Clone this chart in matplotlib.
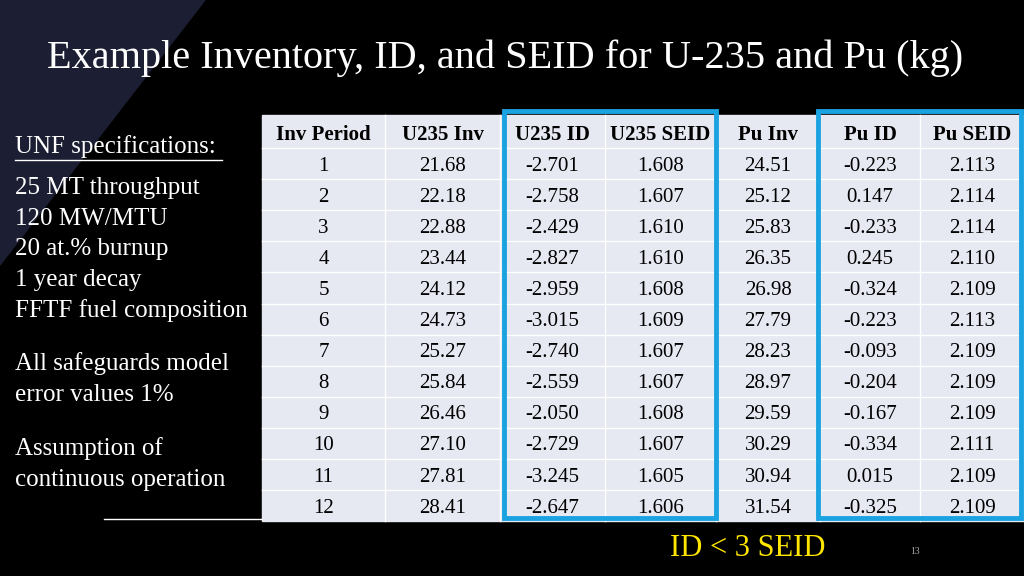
import matplotlib
matplotlib.use("Agg")
import matplotlib.pyplot as plt
from matplotlib.patches import Polygon, Rectangle

headers = ["Inv Period", "U235 Inv", "U235 ID", "U235 SEID", "Pu Inv", "Pu ID", "Pu SEID"]
periods = ["1", "2", "3", "4", "5", "6", "7", "8", "9", "10", "11", "12"]
u235_inv = ["21.68", "22.18", "22.88", "23.44", "24.12", "24.73", "25.27", "25.84", "26.46", "27.10", "27.81", "28.41"]
u235_id = ["-2.701", "-2.758", "-2.429", "-2.827", "-2.959", "-3.015", "-2.740", "-2.559", "-2.050", "-2.729", "-3.245", "-2.647"]
u235_seid = ["1.608", "1.607", "1.610", "1.610", "1.608", "1.609", "1.607", "1.607", "1.608", "1.607", "1.605", "1.606"]
pu_inv = ["24.51", "25.12", "25.83", "26.35", "26.98", "27.79", "28.23", "28.97", "29.59", "30.29", "30.94", "31.54"]
pu_id = ["-0.223", "0.147", "-0.233", "0.245", "-0.324", "-0.223", "-0.093", "-0.204", "-0.167", "-0.334", "0.015", "-0.325"]
pu_seid = ["2.113", "2.114", "2.114", "2.110", "2.109", "2.113", "2.109", "2.109", "2.109", "2.111", "2.109", "2.109"]
columns = [periods, u235_inv, u235_id, u235_seid, pu_inv, pu_id, pu_seid]

plt.rcParams['font.family'] = ['Liberation Serif', 'DejaVu Serif']
fig = plt.figure(figsize=(10.24, 5.76), dpi=100, facecolor='black')
ax = fig.add_axes([0, 0, 1, 1])
ax.set_xlim(0, 1024); ax.set_ylim(576, 0); ax.axis('off')
ax.add_patch(Rectangle((0, 0), 1024, 576, color='black', zorder=0))
ax.add_patch(Polygon([(0, 0), (205, 0), (0, 265)], color='#1c1f33', zorder=1))

ax.text(47, 58, "Example Inventory, ID, and SEID for U-235 and Pu (kg)", color='white',
        fontsize=29, va='center', ha='left', zorder=3)

bounds = [262, 385, 500, 605, 716, 820, 920, 1024]
top, head_h, row_h = 115, 33, 31.1
ax.add_patch(Rectangle((262, top), 762, head_h + 12 * row_h, color='#e6e8f2', zorder=2))
for b in bounds[1:-1]:
    ax.plot([b, b], [top, top + head_h + 12 * row_h], color='white', lw=1, zorder=2.5)
for i in range(12):
    y = top + head_h + i * row_h
    ax.plot([262, 1024], [y, y], color='white', lw=1, zorder=2.5)
for j, h in enumerate(headers):
    cx = (bounds[j] + bounds[j + 1]) / 2
    ax.text(cx, top + head_h / 2 + 3, h, fontsize=15, fontweight='bold', ha='center', va='center', color='black', zorder=3)
    for i, v in enumerate(columns[j]):
        ax.text(cx, top + head_h + (i + 0.5) * row_h + 2.5, v, fontsize=15, ha='center', va='center', color='black', zorder=3)

for x0, x1 in [(504, 716), (818, 1021)]:
    ax.add_patch(Rectangle((x0, 111), x1 - x0, 407, fill=False, ec='#1aa3e0', lw=3.5, zorder=4))

fs = 18
ax.text(15, 147, "UNF specifications:", color='white', fontsize=fs, va='center', zorder=3)
ax.plot([15, 222], [160, 160], color='white', lw=1, zorder=3)
lines = ["25 MT throughput", "120 MW/MTU", "20 at.% burnup", "1 year decay", "FFTF fuel composition"]
for i, t in enumerate(lines):
    ax.text(15, 188 + i * 30.7, t, color='white', fontsize=fs, va='center', zorder=3)
ax.text(15, 364, "All safeguards model", color='white', fontsize=fs, va='center', zorder=3)
ax.text(15, 395, "error values 1%", color='white', fontsize=fs, va='center', zorder=3)
ax.text(15, 449, "Assumption of", color='white', fontsize=fs, va='center', zorder=3)
ax.text(15, 480, "continuous operation", color='white', fontsize=fs, va='center', zorder=3)
ax.plot([104, 262], [519, 519], color='white', lw=1, zorder=3)

ax.text(748, 549, "ID < 3 SEID", color='#ffe600', fontsize=22, ha='center', va='center', zorder=3)
ax.text(915, 552, "13", color='#aaaaaa', fontsize=7, ha='center', va='center', zorder=3)

fig.savefig("out.png", dpi=100, facecolor='black')
